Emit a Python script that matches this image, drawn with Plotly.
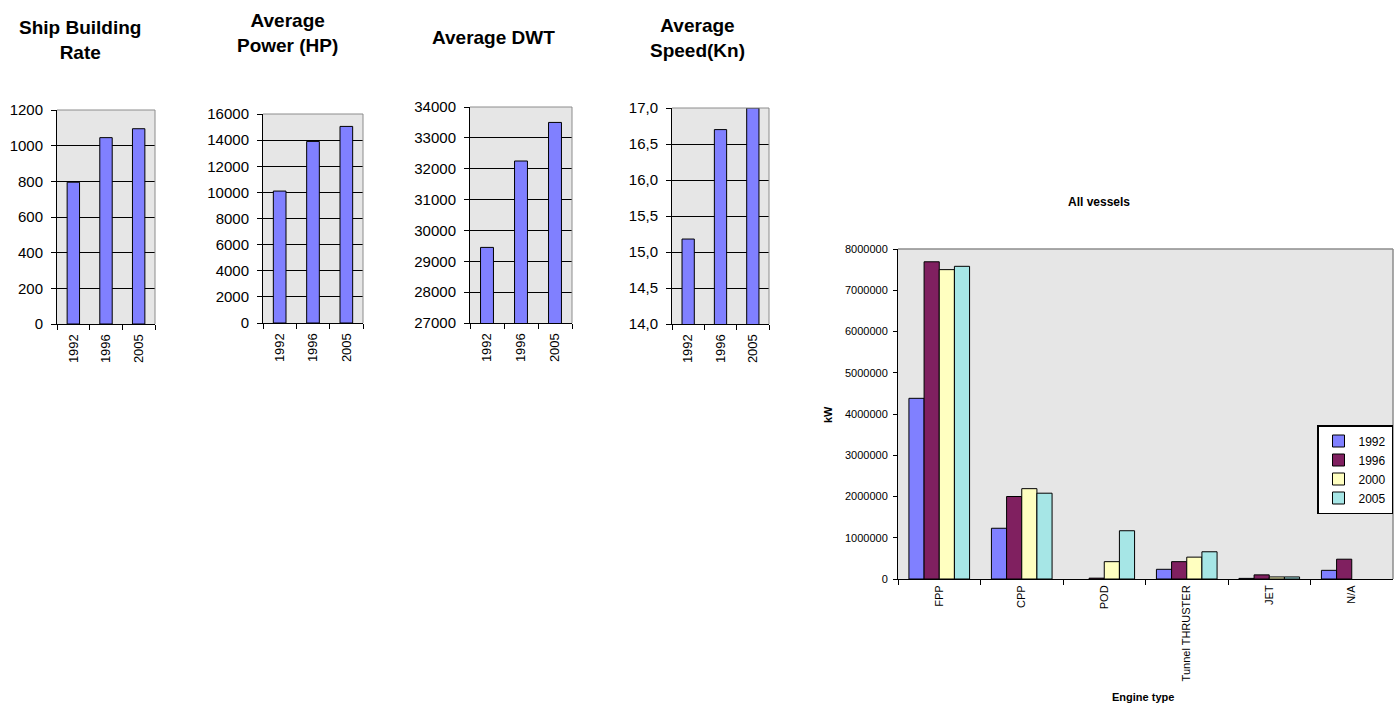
import plotly.graph_objects as go

# ---- data -------------------------------------------------------------
years = ["1992", "1996", "2005"]
ship_building_rate = [795, 1045, 1095]
avg_power_hp = [10100, 13900, 15050]
avg_dwt = [29450, 32250, 33500]
avg_speed_kn = [15.18, 16.7, 17.0]

engine_types = ["FPP", "CPP", "POD", "Tunnel THRUSTER", "JET", "N/A"]
kw_1992 = [4380000, 1230000, None, 235000, 15000, 210000]
kw_1996 = [7690000, 2000000, 20000, 420000, 100000, 480000]
kw_2000 = [7500000, 2190000, 420000, 530000, 50000, None]
kw_2005 = [7580000, 2080000, 1170000, 660000, 50000, None]
vessel_years = ["1992", "1996", "2000", "2005"]

small_titles = ["Ship Building<br>Rate", "Average<br>Power (HP)", "Average DWT", "Average<br>Speed(Kn)"]
small_ranges = [[0, 1200], [0, 16000], [27000, 34000], [14, 17]]
small_dticks = [200, 2000, 1000, 0.5]
small_formats = ["d", "d", "d", ".1f"]

# ---- page geometry (pixels) -------------------------------------------
W, H = 1399, 704
FONT = "Liberation Sans, Arial, sans-serif"
BAR_BLUE = "#8080ff"
PLOT_BG = "#e6e6e6"
year_colors = ["#8080ff", "#802060", "#ffffc0", "#a6e6e6"]

# plot-area boxes: (left, right, top, bottom)
small_boxes = [(57, 155, 110, 324), (263, 363, 114, 323), (470, 572, 107, 323), (672, 769, 108, 324)]
title_pos = [(80, 40), (287, 33), (493, 38), (697, 38)]
big_box = (898, 1393, 249, 579)


def dom_x(l, r):
    return [l / W, r / W]


def dom_y(t, b):
    return [1 - b / H, 1 - t / H]


def label(x, y, text, size, angle=0):
    fig.add_annotation(x=x / W, y=1 - y / H, xref="paper", yref="paper",
                       text=text, showarrow=False, textangle=angle,
                       xanchor="center", yanchor="middle", align="center",
                       font=dict(family=FONT, size=size, color="black"))


fig = go.Figure()
small_values = [ship_building_rate, avg_power_hp, avg_dwt, avg_speed_kn]

for i, (vals, box) in enumerate(zip(small_values, small_boxes)):
    n = i + 1
    suffix = "" if n == 1 else str(n)
    fig.add_trace(go.Bar(
        x=years, y=vals, width=0.38,
        marker=dict(color=BAR_BLUE, line=dict(color="black", width=1)),
        xaxis="x" + suffix, yaxis="y" + suffix, showlegend=False,
    ))
    l, r, t, b = box
    fig.layout["xaxis" + suffix] = dict(
        domain=dom_x(l, r), anchor="y" + suffix, type="category",
        tickson="boundaries", ticks="outside", ticklen=5, tickcolor="black",
        showline=True, linecolor="black", linewidth=1, showgrid=False,
        tickangle=-90, tickfont=dict(family=FONT, size=13, color="black"),
        ticklabelstandoff=4, fixedrange=True, automargin=False,
    )
    fig.layout["yaxis" + suffix] = dict(
        domain=dom_y(t, b), anchor="x" + suffix, range=small_ranges[i],
        dtick=small_dticks[i], tick0=small_ranges[i][0], tickformat=small_formats[i],
        ticks="outside", ticklen=5, tickcolor="black",
        showline=True, linecolor="black", linewidth=1,
        showgrid=True, gridcolor="black", gridwidth=1, zeroline=False,
        tickfont=dict(family=FONT, size=15, color="black"),
        ticklabelstandoff=5, fixedrange=True, automargin=False,
    )
    # gray top/right frame of plot area
    for x0, y0, x1, y1 in [(0, 1, 1, 1), (1, 0, 1, 1)]:
        fig.add_shape(type="line", xref="x" + suffix + " domain", yref="y" + suffix + " domain",
                      x0=x0, y0=y0, x1=x1, y1=y1, line=dict(color="#8c8c8c", width=1))
    tx, ty = title_pos[i]
    label(tx, ty, "<b>" + small_titles[i] + "</b>", 19)

# ---- "All vessels" grouped bar chart ----------------------------------
for yr, vals, col in zip(vessel_years, [kw_1992, kw_1996, kw_2000, kw_2005], year_colors):
    fig.add_trace(go.Bar(
        x=engine_types, y=vals, name=yr,
        marker=dict(color=col, line=dict(color="black", width=1)),
        xaxis="x5", yaxis="y5",
    ))

l, r, t, b = big_box
fig.layout["xaxis5"] = dict(
    domain=dom_x(l, r), anchor="y5", type="category",
    tickson="boundaries", ticks="outside", ticklen=5, tickcolor="black",
    showline=True, linecolor="black", linewidth=1, showgrid=False,
    tickangle=-90, tickfont=dict(family=FONT, size=11, color="black"),
    ticklabelstandoff=1, fixedrange=True, automargin=False,
)
fig.layout["yaxis5"] = dict(
    domain=dom_y(t, b), anchor="x5", range=[0, 8000000], dtick=1000000,
    tickformat="d", ticks="outside", ticklen=4, tickcolor="black",
    showline=True, linecolor="black", linewidth=1, showgrid=False, zeroline=False,
    tickfont=dict(family=FONT, size=11, color="black"),
    ticklabelstandoff=3, fixedrange=True, automargin=False,
)
for x0, y0, x1, y1 in [(0, 1, 1, 1), (1, 0, 1, 1)]:
    fig.add_shape(type="line", xref="x5 domain", yref="y5 domain",
                  x0=x0, y0=y0, x1=x1, y1=y1, line=dict(color="#8c8c8c", width=1.5))

label(1099, 202, "<b>All vessels</b>", 12)
label(828, 415, "<b>kW</b>", 11, angle=-90)
label(1143, 697, "<b>Engine type</b>", 11)

fig.update_layout(
    width=W, height=H, autosize=False,
    margin=dict(l=0, r=0, t=0, b=0, autoexpand=False),
    paper_bgcolor="white", plot_bgcolor=PLOT_BG,
    barmode="group", bargap=0.265, bargroupgap=0,
    separators=",.",
    font=dict(family=FONT, color="black"),
    legend=dict(
        x=1393 / W, y=1 - 425 / H, xanchor="right", yanchor="top",
        bgcolor="white", bordercolor="black", borderwidth=1.5,
        font=dict(family=FONT, size=12, color="black"),
        itemwidth=30, tracegroupgap=0,
    ),
    showlegend=True,
)

fig.write_html("out.html")
